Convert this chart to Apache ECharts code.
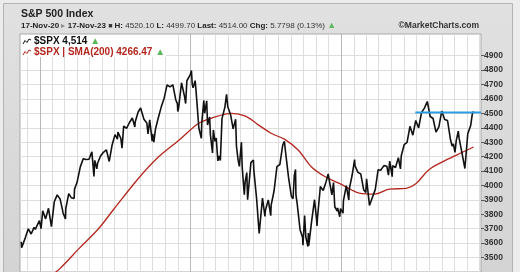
<!DOCTYPE html>
<html>
<head>
<meta charset="utf-8">
<script src="https://cdn.jsdelivr.net/npm/echarts@6/dist/echarts.min.js"></script>
<style>
html,body{margin:0;padding:0;background:#ebebeb;}
#c{width:520px;height:272px;}
</style>
</head>
<body>
<div id="c"></div>
<script>
// ---- data ----
var spxDates = [
'2020-11-17','2020-11-18','2020-11-20','2020-11-27','2020-12-04','2020-12-11','2020-12-18','2020-12-21','2020-12-24','2020-12-31',
'2021-01-04','2021-01-08','2021-01-15','2021-01-22','2021-01-27','2021-01-29','2021-02-05','2021-02-12','2021-02-19','2021-02-25','2021-02-26',
'2021-03-04','2021-03-05','2021-03-12','2021-03-18','2021-03-19','2021-03-25','2021-03-26','2021-04-01','2021-04-09','2021-04-16','2021-04-23','2021-04-30',
'2021-05-07','2021-05-12','2021-05-14','2021-05-19','2021-05-21','2021-05-28','2021-06-04','2021-06-11','2021-06-18','2021-06-25',
'2021-07-02','2021-07-08','2021-07-09','2021-07-16','2021-07-19','2021-07-23','2021-07-30','2021-08-06','2021-08-13','2021-08-19','2021-08-20','2021-08-27',
'2021-09-02','2021-09-10','2021-09-17','2021-09-20','2021-09-24','2021-09-30','2021-10-01','2021-10-04','2021-10-08','2021-10-15','2021-10-22','2021-10-29',
'2021-11-05','2021-11-12','2021-11-19','2021-11-26','2021-11-30','2021-12-01','2021-12-03','2021-12-10','2021-12-17','2021-12-20','2021-12-23','2021-12-31',
'2022-01-03','2022-01-05','2022-01-07','2022-01-12','2022-01-14','2022-01-21','2022-01-24','2022-01-27','2022-01-28','2022-02-02','2022-02-04','2022-02-09',
'2022-02-11','2022-02-16','2022-02-18','2022-02-23','2022-02-25','2022-03-01','2022-03-04','2022-03-08','2022-03-11','2022-03-14','2022-03-18','2022-03-25',
'2022-03-29','2022-04-01','2022-04-08','2022-04-14','2022-04-20','2022-04-22','2022-04-26','2022-04-29','2022-05-04','2022-05-06','2022-05-11','2022-05-13',
'2022-05-17','2022-05-19','2022-05-20','2022-05-27','2022-06-02','2022-06-03','2022-06-10','2022-06-16','2022-06-17','2022-06-24','2022-06-30','2022-07-01',
'2022-07-08','2022-07-14','2022-07-15','2022-07-22','2022-07-29','2022-08-05','2022-08-12','2022-08-16','2022-08-19','2022-08-26','2022-09-02','2022-09-06',
'2022-09-09','2022-09-12','2022-09-13','2022-09-16','2022-09-23','2022-09-29','2022-09-30','2022-10-04','2022-10-07','2022-10-12','2022-10-13','2022-10-14',
'2022-10-21','2022-10-28','2022-11-02','2022-11-03','2022-11-04','2022-11-10','2022-11-11','2022-11-18','2022-11-25','2022-11-30','2022-12-02','2022-12-09',
'2022-12-13','2022-12-16','2022-12-22','2022-12-23','2022-12-28','2022-12-30',
'2023-01-05','2023-01-06','2023-01-13','2023-01-19','2023-01-20','2023-01-27','2023-02-02','2023-02-03','2023-02-10','2023-02-17','2023-02-24','2023-03-01',
'2023-03-03','2023-03-10','2023-03-13','2023-03-17','2023-03-24','2023-03-31','2023-04-06','2023-04-14','2023-04-21','2023-04-25','2023-04-28','2023-05-04',
'2023-05-05','2023-05-12','2023-05-19','2023-05-24','2023-05-26','2023-06-02','2023-06-09','2023-06-16','2023-06-23','2023-06-30','2023-07-07','2023-07-14',
'2023-07-21','2023-07-28','2023-07-31','2023-08-04','2023-08-11','2023-08-18','2023-08-25','2023-09-01','2023-09-08','2023-09-15','2023-09-22','2023-09-26',
'2023-09-29','2023-10-03','2023-10-06','2023-10-11','2023-10-13','2023-10-20','2023-10-27','2023-11-03','2023-11-10','2023-11-14','2023-11-17'
];
var spxValues = [
3609.5,3567.8,3557.5,3638.4,3699.1,3663.5,3709.4,3694.9,3703.1,3756.1,
3700.7,3824.7,3768.3,3841.5,3750.8,3714.2,3886.8,3934.8,3906.7,3829.3,3811.2,
3768.5,3841.9,3943.3,3915.5,3913.1,3909.5,3974.5,4019.9,4128.8,4185.5,4180.2,4181.2,
4232.6,4063.0,4173.9,4115.7,4155.9,4204.1,4229.9,4247.4,4166.5,4280.7,
4352.3,4320.8,4369.6,4327.2,4258.5,4411.8,4395.3,4436.5,4468.0,4405.8,4441.7,4509.4,
4537.0,4458.6,4433.0,4357.7,4455.5,4307.5,4357.0,4300.5,4391.3,4471.4,4544.9,4605.4,
4697.5,4682.9,4698.0,4594.6,4567.0,4513.0,4538.4,4712.0,4620.6,4568.0,4725.8,4766.2,
4796.6,4700.6,4677.0,4726.4,4662.9,4397.9,4410.1,4326.5,4431.9,4589.4,4500.5,4587.2,
4418.6,4475.0,4348.9,4225.5,4384.7,4306.3,4328.9,4170.7,4204.3,4173.1,4463.1,4543.1,
4631.6,4545.9,4488.3,4392.6,4459.5,4271.8,4175.2,4131.9,4300.2,4123.3,3935.2,4023.9,
4088.9,3900.8,3901.4,4158.2,4176.8,4108.5,3900.9,3666.8,3674.8,3911.7,3785.4,3825.3,
3899.4,3790.4,3863.2,3961.6,4130.3,4145.2,4280.2,4305.2,4228.5,4057.7,3924.3,3908.2,
4067.4,4110.4,3932.7,3873.3,3693.2,3640.5,3585.6,3790.9,3639.7,3577.0,3669.9,3583.1,
3752.8,3901.1,3759.7,3719.9,3770.6,3956.4,3992.9,3965.3,4026.1,4080.1,4071.7,3934.4,
4019.7,3852.4,3822.4,3844.8,3783.2,3839.5,
3808.1,3895.1,3999.1,3898.9,3972.6,4070.6,4179.8,4136.5,4090.5,4079.1,3970.0,3951.4,
4045.6,3861.6,3855.8,3916.6,3971.0,4109.3,4105.0,4137.6,4133.5,4071.6,4169.5,4061.2,
4136.3,4124.1,4192.0,4115.2,4205.5,4282.4,4298.9,4409.6,4348.3,4450.4,4399.0,4505.4,
4536.3,4582.2,4589.0,4478.0,4464.1,4369.7,4405.7,4515.8,4457.5,4450.3,4320.1,4273.5,
4288.1,4229.5,4308.5,4376.9,4327.8,4224.2,4117.4,4358.3,4415.2,4495.7,4514.0
];
var smaDates = [
'2020-11-17','2021-01-01','2021-02-17','2021-04-05','2021-05-23','2021-06-29','2021-08-28','2021-10-15','2021-12-03',
'2022-01-20','2022-02-21','2022-04-10','2022-05-14','2022-06-14','2022-07-16','2022-08-18','2022-09-19','2022-10-20','2022-11-23','2022-12-27',
'2023-01-27','2023-02-13','2023-03-22','2023-04-27','2023-06-07','2023-07-01','2023-08-01','2023-09-12','2023-10-21','2023-11-17'
];
var smaValues = [
3180,3310,3420,3560,3700,3835,4050,4197,4312,
4430,4467,4500,4480,4420,4360,4318,4244,4130,4060,4014,
3967,3947,3940,3974,3980,4014,4109,4177,4230,4266.47
];
var resistanceLevel = 4505;
var resistanceStart = '2023-06-29';
var resistanceEnd = '2023-12-05';
var yTicks = [3500,3600,3700,3800,3900,4000,4100,4200,4300,4400,4500,4600,4700,4800,4900];
var yearLines = ['2021-01-01','2022-01-01','2023-01-01'];
var xStart = '2020-11-14', xEnd = '2023-12-05';

// monthly grid positions (Dec 2020 .. Dec 2023)
var monthLines = [];
for (var y = 2020; y <= 2023; y++) {
  for (var m = 1; m <= 12; m++) {
    if ((y === 2020 && m < 12) || m === 1) continue;
    monthLines.push(y + '-' + (m < 10 ? '0' + m : m) + '-01');
  }
}
function ts(s) { return +echarts.time.parse(s); }

var spx = spxDates.map(function (d, i) { return [d, spxValues[i]]; });
var sma = smaDates.map(function (d, i) { return [d, smaValues[i]]; });
var res = [[resistanceStart, resistanceLevel], [resistanceEnd, resistanceLevel]];

var chart = echarts.init(document.getElementById('c'), null, {renderer: 'canvas'});
var FONT = '"Liberation Sans", Arial, sans-serif';
function gridXAxis(values, color) {
  return {
    type: 'time', min: xStart, max: xEnd, position: 'bottom',
    axisLine: {show: false}, axisLabel: {show: false},
    axisTick: {show: false, customValues: values.map(ts)},
    splitLine: {show: true, lineStyle: {color: color, width: 1}}
  };
}
chart.setOption({
  animation: false,
  backgroundColor: '#ececec',
  grid: {left: 20, right: 39, top: 34, bottom: -6, show: true, backgroundColor: '#ffffff', borderColor: '#a9a9a9', borderWidth: 1},
  xAxis: [gridXAxis(monthLines, '#dedede'), gridXAxis(yearLines, '#b8b8b8')],
  yAxis: {
    type: 'value', position: 'right', min: 3400, max: 5050, interval: 100,
    axisLine: {show: false},
    axisTick: {show: true, length: 3, customValues: yTicks, lineStyle: {color: '#555'}},
    axisLabel: {customValues: yTicks, margin: 3, fontSize: 8.5, fontWeight: 'bold', color: '#333', fontFamily: FONT,
      formatter: function (v) { return String(v); }},
    splitLine: {show: true, lineStyle: {color: '#dedede', width: 1}}
  },
  graphic: [
    {type: 'rect', z: -1, silent: true, shape: {x: 3.5, y: 3.5, width: 509, height: 300},
      style: {fill: new echarts.graphic.LinearGradient(0, 0, 0, 1, [{offset: 0, color: '#e1e1e1'}, {offset: 1, color: '#d2d2d2'}]), stroke: '#b3b3b3', lineWidth: 1}},
    {type: 'text', z: 20, style: {text: 'S&P 500 Index', x: 21, y: 14, verticalAlign: 'middle', font: 'bold 10.5px ' + FONT, fill: '#222'}},
    {type: 'text', z: 20, style: {
      text: '{b|17-Nov-20} {g|▸} {b|17-Nov-23} {k|■} {b|H:} 4520.10 {b|L:} 4499.70 {b|Last:} 4514.00 {b|Chg:} 5.7798 (0.13%) {up|▲}',
      x: 21, y: 26, verticalAlign: 'middle', font: '8px ' + FONT, fill: '#333',
      rich: {b: {fontWeight: 'bold', fontSize: 8, fontFamily: FONT, fill: '#222'}, g: {fill: '#888', fontSize: 8}, k: {fill: '#333', fontSize: 7}, up: {fill: '#5cb85c', fontSize: 9}}
    }},
    {type: 'text', z: 20, style: {text: '©MarketCharts.com', x: 479, y: 26, align: 'right', verticalAlign: 'middle', font: 'bold 8.5px ' + FONT, fill: '#333'}},
    {type: 'rect', z: 10, silent: true, shape: {x: 21, y: 35, width: 145, height: 22}, style: {fill: '#ffffff'}},
    {type: 'polyline', z: 20, shape: {points: [[23, 44], [25, 40.5], [27, 42.5], [29, 39], [31, 40]]}, style: {stroke: '#111', lineWidth: 1, fill: null}},
    {type: 'polyline', z: 20, shape: {points: [[23, 55], [25, 51.5], [27, 53.5], [29, 50], [31, 51]]}, style: {stroke: '#b3261e', lineWidth: 1, fill: null}},
    {type: 'text', z: 20, style: {text: '$SPX 4,514 {up|▲}', x: 34, y: 41.5, verticalAlign: 'middle', font: 'bold 10px ' + FONT, fill: '#111',
      rich: {up: {fill: '#5cb85c', fontSize: 10}}}},
    {type: 'text', z: 20, style: {text: '$SPX | SMA(200) 4266.47 {up|▲}', x: 34, y: 52.5, verticalAlign: 'middle', font: 'bold 10px ' + FONT, fill: '#b3261e',
      rich: {up: {fill: '#5cb85c', fontSize: 10}}}}
  ],
  series: [
    {type: 'line', name: 'SMA', data: sma, smooth: 0.35, showSymbol: false, z: 3, xAxisIndex: 0,
      lineStyle: {color: '#b3261e', width: 1.3}},
    {type: 'line', name: 'SPX', data: spx, showSymbol: false, z: 4, xAxisIndex: 0,
      lineStyle: {color: '#111111', width: 1.6}},
    {type: 'line', name: 'Resistance', data: res, showSymbol: false, z: 5, xAxisIndex: 0,
      lineStyle: {color: '#2b9de0', width: 2}}
  ]
});
</script>
</body>
</html>
